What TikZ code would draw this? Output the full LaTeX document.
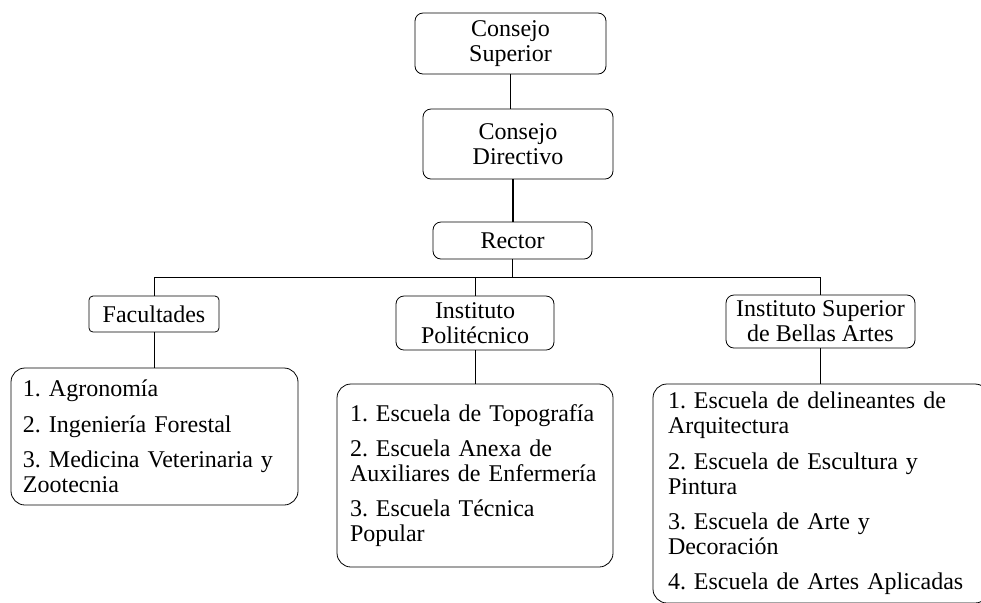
\documentclass[tikz,border=0pt]{standalone}
\usepackage{fontspec}
\setmainfont{Liberation Serif}
\frenchspacing

\tikzset{
  unit/.style={draw, rounded corners=4pt, align=center, inner sep=0pt, font=\fontsize{12}{12.5}\selectfont},
  list/.style={draw, rounded corners=7pt, align=left, inner ysep=0pt, font=\fontsize{12}{12.6}\selectfont},
  link/.style={line width=0.5pt}
}

\begin{document}
\begin{tikzpicture}[x=0.5pt, y=-0.5pt]
\useasboundingbox (0,0) rectangle (981,602);
\clip (0,0) rectangle (981,602);
% Boxes
\node [unit, minimum width=95.5pt, minimum height=30.5pt] (sup) at (510.5,43.5) {Consejo\\Superior};
\node [unit, minimum width=95pt, minimum height=35pt] (dir) at (518,144) {Consejo\\Directivo};
\node [unit, minimum width=79.5pt, minimum height=18.5pt] (rector) at (512.5,240.5) {Rector};
\node [unit, rounded corners=2pt, minimum width=65pt, minimum height=18pt] (fac) at (154,314) {Facultades};
\node [unit, minimum width=79pt, minimum height=27pt] (poli) at (475,323) {Instituto\\Politécnico};
\node [unit, minimum width=94.5pt, minimum height=26.5pt] (bellas) at (820.5,321.5) {Instituto Superior\\de Bellas Artes};
% Lists
\node [list, text width=131.5pt, inner xsep=6pt, minimum height=68.5pt] (facl) at (154.5,436.5)
  {1. Agronomía\\[5pt]2. Ingeniería Forestal\\[5pt]3. Medicina Veterinaria y\\Zootecnia};
\node [list, text width=125pt, inner xsep=6.5pt, minimum height=91.5pt] (polil) at (475,475.5)
  {1. Escuela de Topografía\\[5pt]2. Escuela Anexa de\\Auxiliares de Enfermería\\[5pt]3. Escuela Técnica\\Popular};
\node [list, text width=153pt, inner xsep=7.5pt, minimum height=109.5pt] (bellasl) at (821,493.5)
  {1. Escuela de delineantes de\\Arquitectura\\[5pt]2. Escuela de Escultura y\\Pintura\\[5pt]3. Escuela de Arte y\\Decoración\\[5pt]4. Escuela de Artes Aplicadas};
% Lines
\coordinate (bus) at (512.5,277);
\draw [link, line width=0.7pt] (sup.south) -- (sup.south |- dir.north);
\draw [link, line width=1pt] (rector.north) -- (rector.north |- dir.south);
\draw [link] (rector.south) -- (bus);
\draw [link] (fac.north) |- (bus) -| (bellas.north);
\draw [link] (poli.north) -- (poli.north |- bus);
\draw [link] (fac.south) -- (fac.south |- facl.north);
\draw [link] (poli.south) -- (poli.south |- polil.north);
\draw [link] (bellas.south) -- (bellas.south |- bellasl.north);
\end{tikzpicture}
\end{document}
